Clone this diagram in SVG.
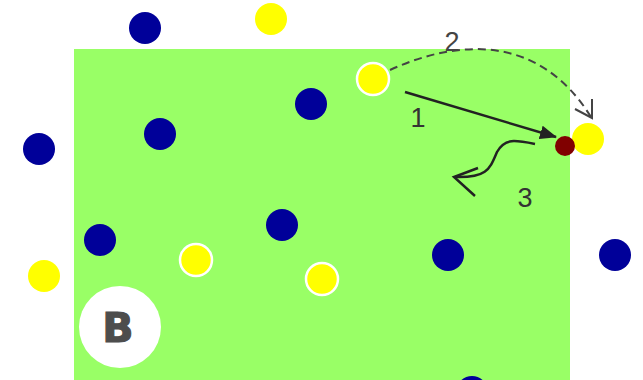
<svg xmlns="http://www.w3.org/2000/svg" width="643" height="380" viewBox="0 0 643 380">
<style>
.blue{fill:#000099}
.yel{fill:#ffff00}
.yels{fill:#ffff00;stroke:#ffffff;stroke-width:2.5}
.lbl{font-family:"Liberation Sans",Arial,sans-serif;font-size:27px;text-anchor:middle}
</style>
<defs>
<marker id="fill" markerWidth="17" markerHeight="14" viewBox="0 0 17 14" refX="16" refY="7" orient="auto" markerUnits="userSpaceOnUse">
<path d="M0,0 L17,7 L0,14 Z" fill="#222"/>
</marker>
</defs>
<rect x="0" y="0" width="643" height="380" fill="#ffffff"/>
<rect id="field" x="74" y="49" width="496" height="331" fill="#99ff66"/>
<g id="players">
<circle id="b1" class="blue" cx="145" cy="28" r="16"/>
<circle id="y1" class="yel" cx="271" cy="19" r="16"/>
<circle id="b2" class="blue" cx="160" cy="134" r="16"/>
<circle id="b3" class="blue" cx="311" cy="104" r="16"/>
<circle id="b4" class="blue" cx="39" cy="149" r="16"/>
<circle id="y2" class="yels" cx="373" cy="79" r="16"/>
<circle id="y3" class="yel" cx="588" cy="139" r="16"/>
<circle id="ball" fill="#800000" cx="565" cy="146" r="10"/>
<circle id="b5" class="blue" cx="100" cy="240" r="16"/>
<circle id="b6" class="blue" cx="282" cy="225" r="16"/>
<circle id="y4" class="yels" cx="196" cy="260" r="16"/>
<circle id="y5" class="yels" cx="322" cy="279" r="16"/>
<circle id="b7" class="blue" cx="448" cy="255" r="16"/>
<circle id="b8" class="blue" cx="615" cy="255" r="16"/>
<circle id="y6" class="yel" cx="44" cy="276" r="16"/>
<circle id="b9" class="blue" cx="472" cy="392" r="16"/>
</g>
<g id="badge">
<circle cx="120" cy="327" r="41" fill="#ffffff"/>
<text x="118" y="342" font-family="'DejaVu Sans',sans-serif" font-weight="bold" font-size="41" fill="#4d4d4d" stroke="#4d4d4d" stroke-width="1.2" text-anchor="middle">B</text>
</g>
<g id="connectors" fill="none">
<path d="M405,92 L556,137" stroke="#222" stroke-width="2.5" marker-end="url(#fill)"/>
<path d="M390,70 C460,38 540,35 591,117" stroke="#444" stroke-width="2" stroke-dasharray="8,5"/>
<path d="M575,109 L592,118 L592,99" stroke="#444" stroke-width="2"/>
<path d="M535,144 C515,140 505,138 497,152 C490,168 488,178 455,177" stroke="#222" stroke-width="2.5"/>
<path d="M478,168 L454,177 L475,196" stroke="#222" stroke-width="2.5"/>
</g>
<g id="labels">
<text class="lbl" x="418" y="127" fill="#333">1</text>
<text class="lbl" x="452" y="51" fill="#444">2</text>
<text class="lbl" x="525" y="207" fill="#333">3</text>
</g>
</svg>
